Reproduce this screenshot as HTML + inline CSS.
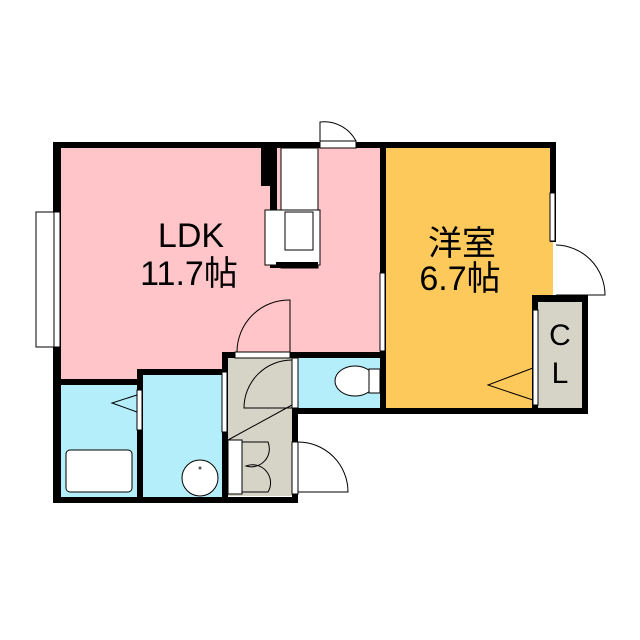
<!DOCTYPE html>
<html><head><meta charset="utf-8"><style>body{margin:0;background:#fff}svg{display:block}</style></head><body>
<svg width="640" height="640" viewBox="0 0 640 640" xmlns="http://www.w3.org/2000/svg">
<rect width="640" height="640" fill="#fff"/>
<rect x="58" y="145" width="325" height="238" fill="#ffc5c9"/>
<rect x="383" y="145" width="170" height="267" fill="#fdc95b"/>
<rect x="58" y="383" width="82" height="116" fill="#b5eefb"/>
<rect x="140" y="373" width="86" height="126" fill="#b5eefb"/>
<rect x="225" y="356" width="70" height="140" fill="#d6d3c7"/>
<rect x="295" y="356" width="88" height="55" fill="#b5eefb"/>
<rect x="535" y="298" width="50" height="112" fill="#d6d3c7"/>
<g fill="#000">
<rect x="53" y="142" width="503" height="6"/>
<rect x="53" y="142" width="8" height="361"/>
<rect x="53" y="497" width="245" height="6"/>
<rect x="380" y="142" width="6" height="272"/>
<rect x="380" y="408" width="208" height="6"/>
<rect x="550" y="142" width="6" height="100"/>
<rect x="532" y="295" width="56" height="7"/>
<rect x="582" y="295" width="6" height="119"/>
<rect x="532" y="295" width="6" height="119"/>
<rect x="53" y="379" width="90" height="6"/>
<rect x="137" y="369" width="90" height="6"/>
<rect x="137" y="369" width="6" height="130"/>
<rect x="222" y="352" width="6" height="147"/>
<rect x="222" y="352" width="164" height="6"/>
<rect x="292" y="352" width="6" height="146"/>
<rect x="292" y="408" width="94" height="6"/>
<rect x="261" y="148" width="15" height="38"/>
<rect x="270" y="148" width="7" height="120"/>
</g>
<g fill="#fff" stroke="#000" stroke-width="1">
<rect x="320" y="141" width="36" height="7"/>
<rect x="36" y="212" width="18" height="135"/>
<rect x="54" y="212" width="6" height="135"/>
<rect x="380" y="273" width="5" height="78"/>
<rect x="550" y="193" width="5" height="48"/>
<rect x="533" y="310" width="5" height="95"/>
<rect x="235" y="352" width="55" height="6"/>
<rect x="222" y="372" width="5" height="60"/>
<rect x="137" y="390" width="5" height="40"/>
<rect x="292" y="358" width="6" height="50"/>
<rect x="228" y="440" width="14" height="54"/>
<rect x="292" y="442" width="6" height="52"/>
<rect x="281" y="148" width="37" height="120"/>
<rect x="265" y="210" width="55" height="55"/>
<rect x="285" y="212" width="28" height="38"/>
<rect x="66" y="450" width="66" height="42" rx="4"/>
<ellipse cx="200" cy="478" rx="18" ry="18"/>
<ellipse cx="355" cy="381" rx="20" ry="15"/>
<rect x="369" y="369" width="11" height="24"/>
</g>
<rect x="276" y="262" width="42" height="6" fill="#000"/>
<g fill="none" stroke="#000" stroke-width="1">
<path d="M320 141 L320 122 A36 36 0 0 1 356 141"/>
<path d="M290 352 L290 300 A52 52 0 0 0 237 352"/>
<path d="M292 360 A48 48 0 0 0 244 408 L292 408"/>
<path d="M298 442 A50 50 0 0 1 348 492 L298 492"/>
<path d="M242 442 L268 442 A18 18 0 0 1 246 466 A18 18 0 0 1 268 492 L242 492"/>
<path d="M228 440 L292 405"/>
<path d="M556 245 A50 50 0 0 1 605 295 L556 295"/>
<path d="M533 368 L488 385 L533 400"/>
<path d="M137 395 L112 403 L137 412"/>
</g>
<circle cx="200" cy="468" r="1.5" fill="#555"/>
<g font-family="Liberation Sans, Noto Sans CJK JP, sans-serif" font-size="34" fill="#000" text-anchor="middle">
<text x="191" y="247">LDK</text>
<text x="189" y="285">11.7帖</text>
<text x="462" y="255">洋室</text>
<text x="460" y="290">6.7帖</text>
<text x="560" y="345" font-size="30">C</text>
<text x="560" y="383" font-size="30">L</text>
</g>
</svg>
</body></html>
